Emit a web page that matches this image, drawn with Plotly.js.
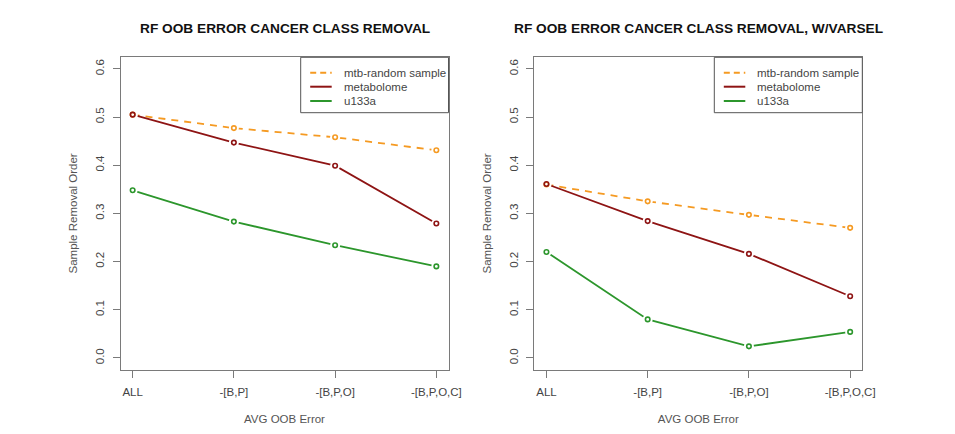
<!DOCTYPE html>
<html>
<head>
<meta charset="utf-8">
<script src="https://cdn.plot.ly/plotly-3.0.1.min.js"></script>
<style>html,body{margin:0;padding:0;background:#fff;}#chart{width:955px;height:434px;}</style>
</head>
<body>
<div id="chart"></div>
<script>
// ---- data ----
const categories = ["ALL", "-[B,P]", "-[B,P,O]", "-[B,P,O,C]"];
const seriesNames = ["mtb-random sample", "metabolome", "u133a"];
const yTicks = [0.0, 0.1, 0.2, 0.3, 0.4, 0.5, 0.6];

// Left panel: RF OOB ERROR CANCER CLASS REMOVAL
const leftMtb = [0.505, 0.477, 0.458, 0.431];
const leftMetabolome = [0.505, 0.447, 0.399, 0.279];
const leftU133a = [0.348, 0.283, 0.234, 0.190];

// Right panel: RF OOB ERROR CANCER CLASS REMOVAL, W/VARSEL
const rightMtb = [0.360, 0.325, 0.297, 0.270];
const rightMetabolome = [0.361, 0.284, 0.216, 0.128];
const rightU133a = [0.220, 0.080, 0.024, 0.054];

const titles = ["RF OOB ERROR CANCER CLASS REMOVAL", "RF OOB ERROR CANCER CLASS REMOVAL, W/VARSEL"];
const xTitle = "AVG OOB Error";
const yTitle = "Sample Removal Order";

// ---- styles ----
const colors = ["#F59A22", "#8E1414", "#2C962C"];
const dashes = ["7px,6px", "solid", "solid"];
const FONT = "Liberation Sans, Arial, sans-serif";

// lines on base axes; point markers (with white gap masks) on overlay axes drawn above
const panels = [
  {x: "x", y: "y", ox: "x3", oy: "y3", data: [leftMtb, leftMetabolome, leftU133a]},
  {x: "x2", y: "y2", ox: "x4", oy: "y4", data: [rightMtb, rightMetabolome, rightU133a]}
];

const traces = [];
panels.forEach(p => {
  p.data.forEach((vals, i) => traces.push({
    type: "scatter", mode: "lines", x: categories, y: vals, xaxis: p.x, yaxis: p.y,
    line: {color: colors[i], width: 1.8, dash: dashes[i]}, showlegend: false, hoverinfo: "skip"
  }));
});
panels.forEach(p => {
  p.data.forEach((vals, i) => traces.push({
    type: "scatter", mode: "markers", x: categories, y: vals, xaxis: p.ox, yaxis: p.oy,
    marker: {color: "#ffffff", size: 10, symbol: "circle", line: {width: 0}},
    showlegend: false, hoverinfo: "skip"
  }));
});
panels.forEach(p => {
  p.data.forEach((vals, i) => traces.push({
    type: "scatter", mode: "markers", x: categories, y: vals, xaxis: p.ox, yaxis: p.oy, name: seriesNames[i],
    marker: {color: colors[i], size: 4.5, symbol: "circle-open", line: {width: 1.6, color: colors[i]}}, showlegend: false
  }));
});

const W = 955, H = 434;
const domX = [[120.5 / W, 448.5 / W], [534.3 / W, 862.3 / W]];
const domY = [1 - 369.5 / H, 1 - 57.3 / H];
const xRange = [-0.12, 3.12];
const yRange = [-0.024, 0.624];

function xAxis(i) {
  return {
    domain: domX[i], anchor: i === 0 ? "y" : "y2", type: "category",
    range: xRange, showgrid: false, zeroline: false,
    showline: true, mirror: true, linecolor: "#7a7a7a", linewidth: 1,
    ticks: "outside", ticklen: 7, tickcolor: "#7a7a7a", tickwidth: 1,
    tickfont: {family: FONT, size: 11.5, color: "#444"}, ticklabelstandoff: 5,
    title: {text: xTitle, font: {family: FONT, size: 11.5, color: "#555"}, standoff: 17},
    automargin: false, fixedrange: true
  };
}
function yAxis(i) {
  return {
    domain: domY, anchor: i === 0 ? "x" : "x2",
    range: yRange, tickvals: yTicks, tickformat: ".1f", tickangle: -90,
    showgrid: false, zeroline: false,
    showline: true, mirror: true, linecolor: "#7a7a7a", linewidth: 1,
    ticks: "outside", ticklen: 7, tickcolor: "#7a7a7a", tickwidth: 1,
    tickfont: {family: FONT, size: 11.5, color: "#444"}, ticklabelstandoff: 4,
    title: {text: yTitle, font: {family: FONT, size: 11.5, color: "#555"}, standoff: 13},
    automargin: false, fixedrange: true
  };
}
function overlayX(base, anchor) {
  return {overlaying: base, anchor: anchor, type: "category", range: xRange, visible: false,
    showgrid: false, zeroline: false, fixedrange: true};
}
function overlayY(base, anchor) {
  return {overlaying: base, anchor: anchor, range: yRange, visible: false,
    showgrid: false, zeroline: false, fixedrange: true};
}

// legend (drawn manually in paper coords)
const shapes = [];
const annotations = [];
const legendBoxes = [[300.7, 448.5], [714.3, 862.3]];
const legendRowsY = [72.7, 86.7, 101];
legendBoxes.forEach((b, k) => {
  shapes.push({type: "rect", xref: "paper", yref: "paper",
    x0: b[0] / W, x1: b[1] / W, y0: 1 - 112.7 / H, y1: 1 - 57.3 / H,
    line: {color: "#555", width: 1}, fillcolor: "rgba(255,255,255,1)", layer: "above"});
  seriesNames.forEach((n, i) => {
    shapes.push({type: "line", xref: "paper", yref: "paper",
      x0: (b[0] + 9.5) / W, x1: (b[0] + 31) / W,
      y0: 1 - legendRowsY[i] / H, y1: 1 - legendRowsY[i] / H,
      line: {color: colors[i], width: 2, dash: i === 0 ? "6px,4px" : "solid"}, layer: "above"});
    annotations.push({xref: "paper", yref: "paper", x: (b[0] + 41) / W, y: 1 - legendRowsY[i] / H,
      xanchor: "left", yanchor: "middle", showarrow: false, text: n,
      font: {family: FONT, size: 11.5, color: "#444"}});
  });
});
titles.forEach((t, k) => {
  annotations.push({xref: "paper", yref: "paper", x: (domX[k][0] + domX[k][1]) / 2, y: 1 - 29 / H,
    xanchor: "center", yanchor: "middle", showarrow: false, text: "<b>" + t + "</b>",
    font: {family: FONT, size: 13.7, color: "#111"}});
});

const layout = {
  width: W, height: H, margin: {l: 0, r: 0, t: 0, b: 0},
  paper_bgcolor: "#fff", plot_bgcolor: "#fff", showlegend: false,
  xaxis: xAxis(0), yaxis: yAxis(0), xaxis2: xAxis(1), yaxis2: yAxis(1),
  xaxis3: overlayX("x", "y3"), yaxis3: overlayY("y", "x3"),
  xaxis4: overlayX("x2", "y4"), yaxis4: overlayY("y2", "x4"),
  shapes: shapes, annotations: annotations
};

Plotly.newPlot("chart", traces, layout, {displayModeBar: false, staticPlot: true});
</script>
</body>
</html>
